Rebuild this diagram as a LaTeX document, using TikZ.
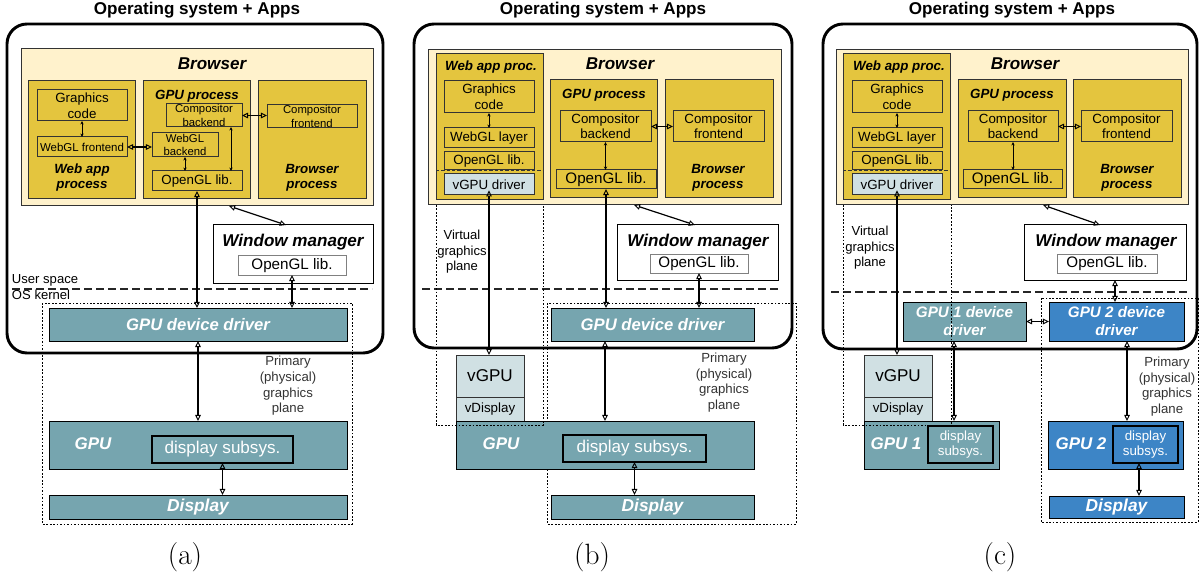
\documentclass[tikz,border=0pt]{standalone}
\usepackage{fontspec}
\newfontfamily\arial{Liberation Sans}
\usetikzlibrary{arrows.meta}
\definecolor{lyel}{HTML}{FFF2CC}
\definecolor{myel}{HTML}{E4C53E}
\definecolor{cteal}{HTML}{76A5AF}
\definecolor{cvg}{HTML}{D0E0E3}
\definecolor{cblue}{HTML}{3D85C6}
\definecolor{cdark}{HTML}{333333}
\newcommand\fz[2]{\fontsize{#1pt}{#2pt}\selectfont}
\newcommand\bx[7][]{%
 \node[#1,minimum width={0.75pt*(#5-#3)},minimum height={0.75pt*(#6-#4)}] (#2) at ({(#3+#5)/2},{(#4+#6)/2}) {};
 \node[#1,draw=none,fill=none,minimum width=0pt,minimum height=0pt] (#2-t) at (#2.center) {#7};}
\tikzset{
 box/.style={draw=cdark,line width=0.75pt,inner sep=0pt,outer sep=0pt,align=center,text=black,font=\arial\fz{10}{11.8}},
 outerbox/.style={draw=black,line width=2.2pt,rounded corners=15pt,inner sep=0pt,outer sep=0pt},
 brwbox/.style={box,fill=lyel},
 ybox/.style={box,fill=myel},
 wbox/.style={box,fill=white,draw=black},
 gbox/.style={box,fill=white,draw=gray,font=\arial\fz{11.4}{13}},
 tbox/.style={box,fill=cteal,draw=black,text=white,font=\arial\bfseries\itshape\fz{12.5}{14}},
 bbox/.style={tbox,fill=cblue},
 vbox/.style={box,fill=cvg},
 dsbox/.style={box,fill=cteal,line width=1.5pt,draw=black,text=white,font=\arial\fz{12.8}{15}},
 lbl/.style={inner sep=0pt,outer sep=0pt,align=center,font=\arial\fz{10}{11.8}},
 ttl/.style={lbl,font=\arial\bfseries\fz{12.8}{15}},
 bigbi/.style={lbl,font=\arial\bfseries\itshape\fz{12.8}{15}},
 bi10/.style={lbl,font=\arial\bfseries\itshape\fz{10}{11.3}},
 gpulbl/.style={lbl,text=white,font=\arial\bfseries\itshape\fz{12.7}{15}},
 small/.style={lbl,font=\arial\fz{9.8}{11.6}},
 prim/.style={lbl,text=cdark,font=\arial\fz{9.9}{11.75}},
 captxt/.style={inner sep=0pt,font=\fz{22}{26}},
 plane/.style={draw=black,line width=0.6pt,dash pattern=on 1.3pt off 1.3pt},
 kline/.style={draw=black!85,line width=1pt,dash pattern=on 6pt off 3pt},
 sdash/.style={draw=cdark,line width=0.6pt,dash pattern=on 2.5pt off 1.5pt},
 oarr/.style={line width=0.9pt,{Triangle[open,length=4.6pt,width=4.2pt,line width=0.7pt]}-{Triangle[open,length=4.6pt,width=4.2pt,line width=0.7pt]}},
 sarr/.style={line width=0.6pt,{Stealth[length=2.6pt,width=2.4pt]}-{Stealth[length=2.6pt,width=2.4pt]}},
}
\begin{document}
\begin{tikzpicture}[x=0.75pt,y=-0.75pt]
\useasboundingbox (0,0) rectangle (1200,581);
% ================= (a) =================
\bx[outerbox]{a-os}{7}{24}{383}{353}{}
\node[ttl] (a-title) at (197,10) {Operating system + Apps};
\draw[plane] (42,303) rectangle (352,524);
\bx[brwbox]{a-brw}{21}{49}{373}{206}{}
\node[bigbi] (a-brwl) at (212,64) {Browser};
\bx[ybox]{a-web}{28}{81}{135}{199}{}
\bx[ybox]{a-gpup}{143}{81}{250}{199}{}
\bx[ybox]{a-brp}{258}{81}{366}{199}{}
\bx[ybox]{a-gc}{37}{90}{127}{121}{Graphics\\code}
\bx[ybox,font=\arial\fz{8.6}{10}]{a-wglf}{37}{137}{127}{157}{WebGL frontend}
\node[bi10] (a-webl) at (82,177.5) {Web app\\process};
\node[bi10] (a-gpul) at (197,96) {GPU process};
\bx[ybox,font=\arial\fz{8.5}{10.3}]{a-cb}{166}{104}{242}{127}{Compositor\\backend}
\bx[ybox,font=\arial\fz{8.5}{9.5}]{a-wglb}{152}{133}{218}{157}{WebGL\\backend}
\bx[ybox]{a-oglg}{152}{171}{242}{191}{OpenGL lib.}
\bx[ybox,font=\arial\fz{8.5}{10.3}]{a-cf}{267}{105}{357}{128}{Compositor\\frontend}
\node[bi10] (a-brpl) at (312,177.5) {Browser\\process};
\bx[wbox]{a-wm}{213}{225}{373}{283}{}
\node[bigbi] (a-wml) at (293,242) {Window manager};
\bx[gbox]{a-oglw}{238}{256}{346}{275}{OpenGL lib.}
\draw[kline] (12,289) -- (372,289);
\node[small,anchor=west] (a-us) at (12,280) {User space};
\node[small,anchor=west] (a-ok) at (12,295) {OS kernel};
\bx[tbox]{a-drv}{49}{308}{347}{341}{GPU device driver}
\bx[tbox]{a-gpu}{49}{421}{347}{469}{}
\node[gpulbl] (a-gpul2) at (93,444) {GPU};
\bx[dsbox]{a-dss}{152}{436}{293}{463}{display subsys.}
\bx[tbox,font=\arial\bfseries\itshape\fz{13}{15}]{a-disp}{49}{495}{347}{519}{Display}
\node[prim] (a-ppl) at (288,386) {Primary\\(physical)\\graphics\\plane};
\node[captxt] (a-cap) at (185,557) {(a)};
\draw[sarr] (a-gc.south) -- (a-wglf.north);
\draw[oarr] (a-wglf.east) -- (a-wglf.east -| a-wglb.west);
\draw[oarr] (a-cb.east) -- (a-cb.east -| a-cf.west);
\draw[sarr] (a-wglb.south) -- (a-wglb.south |- a-oglg.north);
\draw[sarr] (231,0 |- a-cb.south) -- (231,0 |- a-oglg.north);
\draw[oarr] (a-oglg.south) -- (a-oglg.south |- a-drv.north);
\draw[oarr] (229,0 |- a-brw.south) -- (286,0 |- a-wm.north);
\draw[oarr] (a-oglw.south) -- (a-oglw.south |- a-drv.north);
\draw[oarr] (a-drv.south) -- (a-drv.south |- a-gpu.north);
\draw[oarr] (a-dss.south) -- (a-dss.south |- a-disp.north);
% ================= (b) =================
\bx[outerbox]{b-os}{414}{24}{792}{348}{}
\node[ttl] (b-title) at (603,10) {Operating system + Apps};
\draw[plane] (547,303) rectangle (796,524);
\bx[brwbox]{b-brw}{428}{50}{781}{205}{}
\node[bigbi] (b-brwl) at (620,64) {Browser};
\bx[ybox]{b-web}{436}{54}{543}{200}{}
\node[bi10] (b-webl) at (491,67) {Web app proc.};
\bx[ybox]{b-gc}{444}{81}{534}{113}{Graphics\\code}
\bx[ybox]{b-wgl}{444}{128}{534}{148}{WebGL layer}
\bx[ybox]{b-ogla}{444}{152}{534}{170}{OpenGL lib.}
\bx[vbox]{b-vgd}{444}{174}{534}{195}{vGPU driver}
\draw[sdash] (436,170.5) -- (543,170.5);
\bx[ybox]{b-gpup}{550}{80}{657}{198}{}
\node[bi10] (b-gpul) at (604,95) {GPU process};
\bx[ybox]{b-brp}{665}{80}{773}{198}{}
\node[bi10] (b-brpl) at (718,177.5) {Browser\\process};
\bx[ybox,font=\arial\fz{10}{11.6}]{b-cb}{560}{111}{651}{142}{Compositor\\backend}
\bx[ybox,font=\arial\fz{10}{11.6}]{b-cf}{673}{111}{764}{142}{Compositor\\frontend}
\bx[ybox,font=\arial\fz{11.4}{13}]{b-oglg}{556}{170}{656}{189}{OpenGL lib.}
\bx[wbox]{b-wm}{617}{225}{778}{280}{}
\node[bigbi] (b-wml) at (698,242) {Window manager};
\bx[gbox]{b-oglw}{650}{255}{748}{273}{OpenGL lib.}
\draw[kline] (422,289) -- (778,289);
\node[small] (b-vpl) at (462,252) {Virtual\\graphics\\plane};
\bx[tbox]{b-drv}{551}{308}{754}{341}{GPU device driver}
\bx[vbox,font=\arial\fz{12.8}{15}]{b-vgpu}{456}{355}{524}{397}{vGPU}
\bx[vbox]{b-vdisp}{456}{397}{524}{421}{vDisplay}
\bx[tbox]{b-gpu}{456}{421}{754}{469}{}
\node[gpulbl] (b-gpul2) at (501,444) {GPU};
\bx[dsbox]{b-dss}{563}{435}{706}{462}{display subsys.}
\bx[tbox,font=\arial\bfseries\itshape\fz{13}{15}]{b-disp}{551}{495}{754}{519}{Display}
\node[prim] (b-ppl) at (724,382.5) {Primary\\(physical)\\graphics\\plane};
\draw[plane] (436,205) -- (436,425) -- (543,425) -- (543,205);
\node[captxt] (b-cap) at (592,557) {(b)};
\draw[sarr] (b-gc.south) -- (b-wgl.north);
\draw[oarr] (b-cb.east) -- (b-cb.east -| b-cf.west);
\draw[sarr] (b-cb.south) -- (b-cb.south |- b-oglg.north);
\draw[oarr] (b-oglg.south) -- (b-oglg.south |- b-drv.north);
\draw[oarr] (634,0 |- b-brw.south) -- (695,0 |- b-wm.north);
\draw[oarr] (b-oglw.south) -- (b-oglw.south |- b-drv.north);
\draw[oarr] ([yshift=3.5pt]b-vgd.south) -- (b-vgd.south |- b-vgpu.north);
\draw[oarr] (605,0 |- b-drv.south) -- (605,0 |- b-gpu.north);
\draw[oarr] (b-dss.south) -- (b-dss.south |- b-disp.north);
% ================= (c) =================
\bx[outerbox]{c-os}{823}{24}{1197}{349}{}
\node[ttl] (c-title) at (1012,10) {Operating system + Apps};
\draw[plane] (1041,298) rectangle (1198,522);
\bx[brwbox]{c-brw}{836}{50}{1188}{205}{}
\node[bigbi] (c-brwl) at (1025,64) {Browser};
\bx[ybox]{c-web}{843}{54}{950}{200}{}
\node[bi10] (c-webl) at (899,67) {Web app proc.};
\bx[ybox]{c-gc}{852}{81}{942}{113}{Graphics\\code}
\bx[ybox]{c-wgl}{852}{128}{942}{148}{WebGL layer}
\bx[ybox]{c-ogla}{852}{152}{942}{170}{OpenGL lib.}
\bx[vbox]{c-vgd}{852}{174}{942}{195}{vGPU driver}
\draw[sdash] (843,170.5) -- (950,170.5);
\bx[ybox]{c-gpup}{958}{80}{1066}{198}{}
\node[bi10] (c-gpul) at (1012,95) {GPU process};
\bx[ybox]{c-brp}{1073}{80}{1181}{198}{}
\node[bi10] (c-brpl) at (1127,177.5) {Browser\\process};
\bx[ybox,font=\arial\fz{10}{11.6}]{c-cb}{968}{111}{1058}{142}{Compositor\\backend}
\bx[ybox,font=\arial\fz{10}{11.6}]{c-cf}{1081}{111}{1172}{142}{Compositor\\frontend}
\bx[ybox,font=\arial\fz{11.4}{13}]{c-oglg}{963}{170}{1062}{189}{OpenGL lib.}
\bx[wbox]{c-wm}{1024}{225}{1186}{280}{}
\node[bigbi] (c-wml) at (1106,242) {Window manager};
\bx[gbox]{c-oglw}{1057}{255}{1157}{273}{OpenGL lib.}
\draw[kline] (831,292) -- (1190,292);
\node[small] (c-vpl) at (870,248) {Virtual\\graphics\\plane};
\bx[tbox,font=\arial\bfseries\itshape\fz{11.4}{13.5}]{c-drv1}{903}{302}{1026}{341}{GPU 1 device\\driver}
\bx[bbox,font=\arial\bfseries\itshape\fz{11.4}{13.5}]{c-drv2}{1049}{302}{1184}{341}{GPU 2 device\\driver}
\bx[vbox,font=\arial\fz{12.8}{15}]{c-vgpu}{864}{355}{932}{397}{vGPU}
\bx[vbox]{c-vdisp}{864}{397}{932}{421}{vDisplay}
\bx[tbox]{c-gpu1}{864}{421}{999}{469}{}
\node[gpulbl] (c-gpu1l) at (896,444) {GPU 1};
\bx[dsbox,font=\arial\fz{10}{11.8}]{c-dss1}{928}{426}{993}{463}{display\\subsys.}
\bx[bbox]{c-gpu2}{1048}{421}{1183}{469}{}
\node[gpulbl] (c-gpu2l) at (1081,444) {GPU 2};
\bx[dsbox,fill=cblue,font=\arial\fz{10}{11.8}]{c-dss2}{1113}{426}{1178}{463}{display\\subsys.}
\bx[bbox,font=\arial\bfseries\itshape\fz{13}{15}]{c-disp}{1049}{496}{1184}{518}{Display}
\node[prim] (c-ppl) at (1167,386.5) {Primary\\(physical)\\graphics\\plane};
\draw[plane] (843,205) -- (843,425) -- (951,425) -- (951,205);
\node[captxt] (c-cap) at (1000,557) {(c)};
\draw[sarr] (c-gc.south) -- (c-wgl.north);
\draw[oarr] (c-cb.east) -- (c-cb.east -| c-cf.west);
\draw[sarr] (c-cb.south) -- (c-cb.south |- c-oglg.north);
\draw[oarr] (1043,0 |- c-brw.south) -- (1100,0 |- c-wm.north);
\draw[oarr] (1115,0 |- c-wm.south) -- (1115,0 |- c-drv2.north);
\draw[oarr] (c-drv1.east) -- (c-drv1.east -| c-drv2.west);
\draw[oarr] ([yshift=3.5pt]c-vgd.south) -- (c-vgd.south |- c-vgpu.north);
\draw[oarr] (954,0 |- c-drv1.south) -- (954,0 |- c-gpu1.north);
\draw[oarr] (1127,0 |- c-drv2.south) -- (1127,0 |- c-gpu2.north);
\draw[oarr] (1139,0 |- c-dss2.south) -- (1139,0 |- c-disp.north);
\end{tikzpicture}
\end{document}
